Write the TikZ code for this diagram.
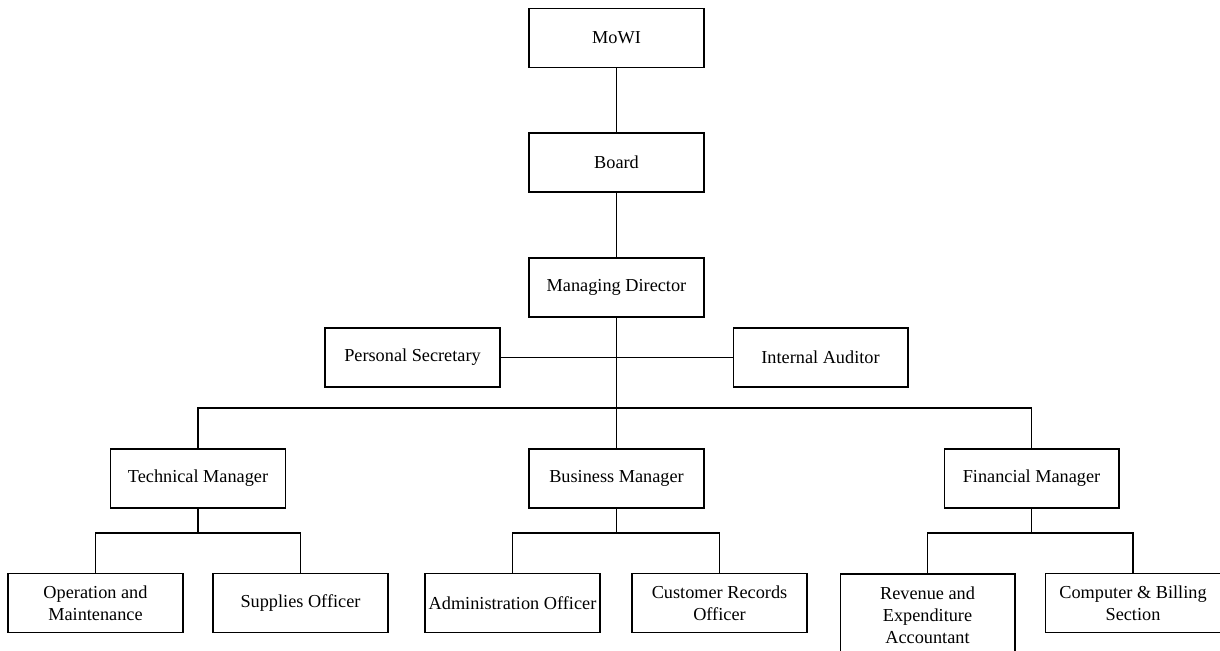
\documentclass[tikz,border=0pt]{standalone}
\usepackage{fontspec}
\setmainfont{Liberation Serif}
\begin{document}
\begin{tikzpicture}[x=0.02cm, y=-0.02cm]

    \tikzset{
      post/.style={
        draw,
        line width=0.6pt,
        align=center,
        inner sep=1pt,
        minimum width=3.5cm,
        minimum height=1.18cm,
        font=\fontsize{10.4}{12.4}\selectfont,
      },
      link/.style={
        color={black},
        line width=0.6pt,
      },
    }
    \useasboundingbox (0,0) rectangle (1220,651);
    \clip (0,0) rectangle (1220,651);

	% top of the chart
	\node[post] (mowi) at (616.5,38) {MoWI};
	\node[post] (board) at (616.5,162.5) {Board};
	\node[post] (md) at (616.5,287.5) {Managing Director};
	\node[post] (ps) at (412.5,357.5) {Personal Secretary};
	\node[post] (ia) at (820.5,357.5) {Internal Auditor};

	% managers
	\node[post] (tm) at (198,478.5) {Technical Manager};
	\node[post] (bm) at (616.5,478.5) {Business Manager};
	\node[post] (fm) at (1031.5,478.5) {Financial Manager};

	% officers
	\node[post] (om) at (95.5,603) {Operation and\\Maintenance};
	\node[post] (so) at (300.5,603) {Supplies Officer};
	\node[post] (ao) at (512.5,603) {Administration Officer};
	\node[post] (cr) at (719.5,603) {Customer Records\\Officer};
	\node[post, minimum height=1.64cm] (re) at (927.5,615) {Revenue and\\Expenditure\\Accountant};
	\node[post] (cb) at (1133,603) {Computer \& Billing\\Section};

	\coordinate (bus) at (616.5,408);
	\coordinate (tmbus) at (198,533);
	\coordinate (bmbus) at (616.5,533);
	\coordinate (fmbus) at (1031.5,533);

	\draw[link] (mowi) -- (board);
	\draw[link] (board) -- (md);
	\draw[link] (md) -- (bm);
	\draw[link] (ps) -- (ia);
	\draw[link] (tm.north) |- (bus) -| (fm.north);

	\draw[link] (tm) -- (tmbus);
	\draw[link] (om.north) |- (tmbus) -| (so.north);
	\draw[link] (bm) -- (bmbus);
	\draw[link] (ao.north) |- (bmbus) -| (cr.north);
	\draw[link] (fm) -- (fmbus);
	\draw[link] (re.north) |- (fmbus) -| (cb.north);

\end{tikzpicture}
\end{document}
